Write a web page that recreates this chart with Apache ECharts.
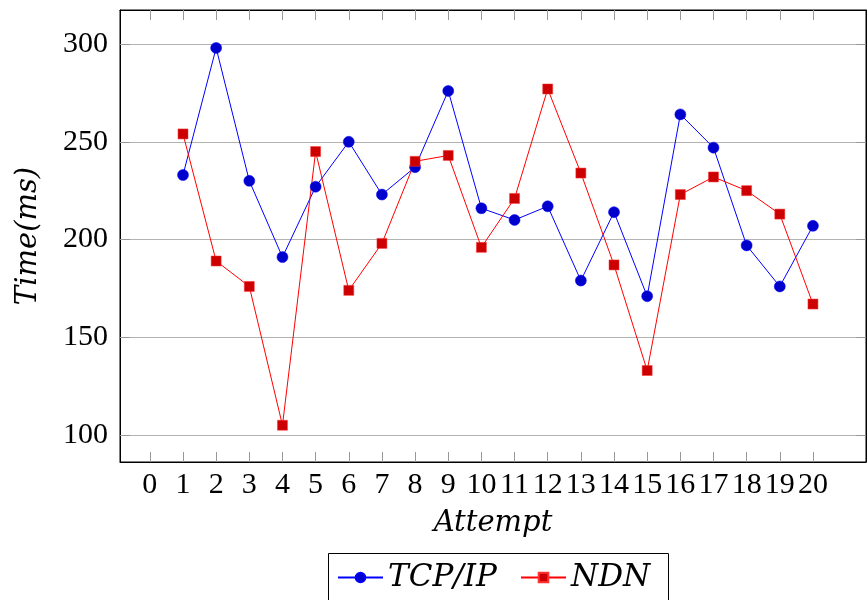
<!DOCTYPE html>
<html>
<head>
<meta charset="utf-8">
<script src="https://cdn.jsdelivr.net/npm/echarts@6/dist/echarts.min.js"></script>
<style>
  html, body { margin: 0; padding: 0; background: #fff; }
  #chart { width: 867px; height: 600px; }
</style>
</head>
<body>
<div id="chart"></div>
<script>
// attempts and measured times
var attempts = [1, 2, 3, 4, 5, 6, 7, 8, 9, 10, 11, 12, 13, 14, 15, 16, 17, 18, 19, 20];
var tcpTimes = [233, 298, 230, 191, 227, 250, 223, 237, 276, 216, 210, 217, 179, 214, 171, 264, 247, 197, 176, 207];
var ndnTimes = [254, 189, 176, 105, 245, 174, 198, 240, 243, 196, 221, 277, 234, 187, 133, 223, 232, 225, 213, 167];
var xTicks = [0, 1, 2, 3, 4, 5, 6, 7, 8, 9, 10, 11, 12, 13, 14, 15, 16, 17, 18, 19, 20];
var yTicks = [100, 150, 200, 250, 300];

var chartDom = document.getElementById('chart');
var myChart = echarts.init(chartDom);
var option;

var serif = 'Liberation Serif';
var italic = 'DejaVu Serif';
var tickStyle = { show: true, inside: true, length: 10, lineStyle: { color: '#999', width: 1 } };
var legendText = { fontFamily: italic, fontStyle: 'italic', fontSize: 31, color: '#000' };

function pairs(ys) {
  return attempts.map(function (a, i) { return [a, ys[i]]; });
}

option = {
  animation: false,
  backgroundColor: '#fff',
  grid: {
    left: 120, right: 1, top: 10, bottom: 138,
    show: true, borderColor: '#000', borderWidth: 1
  },
  // one legend per entry so the spacing follows the latex layout, box drawn below
  legend: [
    {
      left: 337, top: 562, padding: 0,
      itemWidth: 45, itemHeight: 12, itemGap: 0,
      textStyle: legendText,
      data: ['TCP/IP']
    },
    {
      left: 520, top: 562, padding: 0,
      itemWidth: 45, itemHeight: 12, itemGap: 0,
      textStyle: legendText,
      data: ['NDN']
    }
  ],
  graphic: [
    {
      type: 'rect',
      silent: true,
      shape: { x: 328.5, y: 553.5, width: 340, height: 60 },
      style: { fill: 'none', stroke: '#000', lineWidth: 1 }
    }
  ],
  xAxis: [
    {
      type: 'value',
      min: -0.9,
      max: 21.6,
      name: 'Attempt',
      nameLocation: 'middle',
      nameGap: 47,
      nameTextStyle: { fontFamily: italic, fontStyle: 'italic', fontSize: 29, color: '#000' },
      axisLine: { show: true, onZero: false, lineStyle: { color: '#000' } },
      axisTick: Object.assign({ customValues: xTicks }, tickStyle),
      axisLabel: {
        customValues: xTicks, margin: 8,
        fontFamily: serif, fontSize: 30, color: '#000'
      },
      splitLine: { show: false }
    },
    {
      type: 'value',
      position: 'top',
      min: -0.9,
      max: 21.6,
      axisLine: { show: true, onZero: false, lineStyle: { color: '#000' } },
      axisTick: Object.assign({ customValues: xTicks }, tickStyle),
      axisLabel: { show: false },
      splitLine: { show: false }
    }
  ],
  yAxis: [
    {
      type: 'value',
      min: 86.2,
      max: 317.4,
      name: 'Time(ms)',
      nameLocation: 'middle',
      nameGap: 77,
      nameTextStyle: { fontFamily: italic, fontStyle: 'italic', fontSize: 29, color: '#000' },
      axisLine: { show: true, onZero: false, lineStyle: { color: '#000' } },
      axisTick: Object.assign({ customValues: yTicks }, tickStyle),
      axisLabel: {
        customValues: yTicks, margin: 12,
        fontFamily: serif, fontSize: 30, color: '#000'
      },
      splitLine: { show: true, lineStyle: { color: '#b3b3b3', width: 1 } }
    },
    {
      type: 'value',
      position: 'right',
      min: 86.2,
      max: 317.4,
      axisLine: { show: true, onZero: false, lineStyle: { color: '#000' } },
      axisTick: Object.assign({ customValues: yTicks }, tickStyle),
      axisLabel: { show: false },
      splitLine: { show: false }
    }
  ],
  series: [
    {
      name: 'TCP/IP',
      type: 'line',
      data: pairs(tcpTimes),
      symbol: 'circle',
      symbolSize: 11,
      lineStyle: { color: '#0000ff', width: 1 },
      itemStyle: { color: '#0000cc', borderColor: '#0000ff', borderWidth: 0.5 }
    },
    {
      name: 'NDN',
      type: 'line',
      data: pairs(ndnTimes),
      symbol: 'rect',
      symbolSize: 10,
      lineStyle: { color: '#ff0000', width: 1 },
      itemStyle: { color: '#cc0000', borderColor: '#ff3333', borderWidth: 0.5 }
    }
  ]
};

if (option && typeof option === 'object') {
  myChart.setOption(option);
}

window.onresize = function () {
  myChart.resize();
};
</script>
</body>
</html>
